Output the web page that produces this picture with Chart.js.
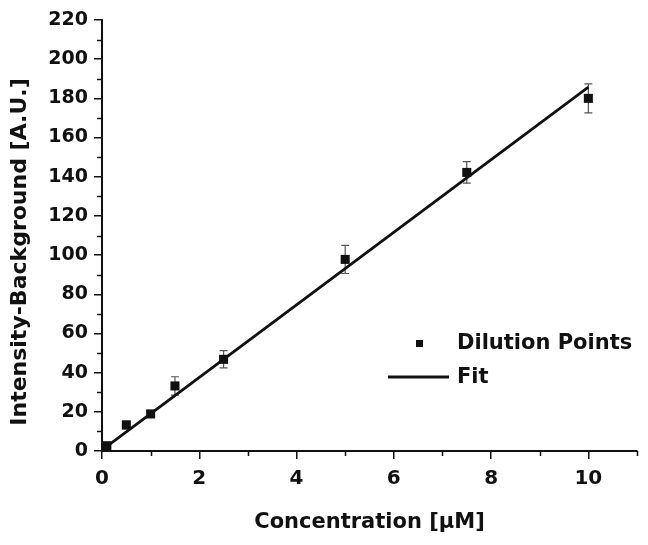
<!DOCTYPE html>
<html>
<head>
<meta charset="utf-8">
<script src="https://cdn.jsdelivr.net/npm/chart.js@4"></script>
<style>
  html, body { margin: 0; padding: 0; background: #fff; }
  #wrap { width: 648px; height: 545px; position: relative; }
</style>
</head>
<body>
<div id="wrap"><canvas id="chart"></canvas></div>
<script>
const concentration = [0.1, 0.5, 1, 1.5, 2.5, 5, 7.5, 10];
const intensity = [2.7, 13.3, 18.9, 33.2, 46.8, 97.8, 142.2, 180];
const intensityError = [1.2, 2, 1.8, 4.7, 4.4, 7.2, 5.5, 7.4];

const fitX = [0.1, 10];
const fitY = [2.4, 185.7];

const xMinorTicks = [1, 3, 5, 7, 9, 11];
const yMinorTicks = [10, 30, 50, 70, 90, 110, 130, 150, 170, 190, 210];

const FONT = "'DejaVu Sans', sans-serif";
const INK = '#111';

const minorTicks = {
  id: 'minorTicks',
  afterDraw(chart) {
    const { ctx, scales: { x, y } } = chart;
    ctx.save();
    ctx.strokeStyle = INK;
    ctx.lineWidth = 1.5;
    ctx.beginPath();
    xMinorTicks.forEach((v) => {
      const px = Math.round(x.getPixelForValue(v)) + 0.5;
      ctx.moveTo(px, x.top);
      ctx.lineTo(px, x.top + 5);
    });
    yMinorTicks.forEach((v) => {
      const py = Math.round(y.getPixelForValue(v)) + 0.5;
      ctx.moveTo(y.right, py);
      ctx.lineTo(y.right - 5, py);
    });
    ctx.stroke();
    ctx.restore();
  }
};

const errorBars = {
  id: 'errorBars',
  beforeDatasetsDraw(chart) {
    const { ctx, scales: { x, y } } = chart;
    ctx.save();
    ctx.strokeStyle = '#555';
    ctx.lineWidth = 1.2;
    ctx.beginPath();
    concentration.forEach((c, i) => {
      const px = x.getPixelForValue(c);
      const top = y.getPixelForValue(intensity[i] + intensityError[i]);
      const bottom = y.getPixelForValue(intensity[i] - intensityError[i]);
      ctx.moveTo(px, top);
      ctx.lineTo(px, bottom);
      ctx.moveTo(px - 4, top);
      ctx.lineTo(px + 4, top);
      ctx.moveTo(px - 4, bottom);
      ctx.lineTo(px + 4, bottom);
    });
    ctx.stroke();
    ctx.restore();
  }
};

// legend and y title drawn by hand so they sit where the original has them
const annotations = {
  id: 'annotations',
  afterDraw(chart) {
    const { ctx, chartArea } = chart;
    ctx.save();
    ctx.fillStyle = INK;
    ctx.strokeStyle = INK;

    const lx = chartArea.left + 286;
    const ly = chartArea.top + 323;
    ctx.fillRect(lx + 28, ly - 3, 7, 7);
    ctx.lineWidth = 2.8;
    ctx.beginPath();
    ctx.moveTo(lx, ly + 34);
    ctx.lineTo(lx + 61, ly + 34);
    ctx.stroke();
    ctx.font = `bold 21px ${FONT}`;
    ctx.textBaseline = 'middle';
    ctx.textAlign = 'left';
    ctx.fillText('Dilution Points', lx + 69, ly + 1);
    ctx.fillText('Fit', lx + 69, ly + 35);

    ctx.translate(20, 252);
    ctx.rotate(-Math.PI / 2);
    ctx.textAlign = 'center';
    ctx.font = `bold 22px ${FONT}`;
    ctx.fillText('Intensity-Background [A.U.]', 0, 0);
    ctx.restore();
  }
};

new Chart(document.getElementById('chart'), {
  type: 'scatter',
  data: {
    datasets: [
      {
        label: 'Dilution Points',
        data: concentration.map((c, i) => ({ x: c, y: intensity[i] })),
        pointStyle: 'rect',
        pointRadius: 6.4,
        pointBorderWidth: 0,
        backgroundColor: INK,
        borderColor: INK,
        order: 1
      },
      {
        label: 'Fit',
        data: fitX.map((c, i) => ({ x: c, y: fitY[i] })),
        showLine: true,
        pointRadius: 0,
        borderColor: INK,
        borderWidth: 2.8,
        order: 2
      }
    ]
  },
  options: {
    responsive: true,
    maintainAspectRatio: false,
    animation: false,
    layout: { padding: { top: 20, right: 11, left: 0, bottom: 0 } },
    plugins: {
      legend: { display: false },
      tooltip: { enabled: false }
    },
    scales: {
      x: {
        type: 'linear',
        min: 0,
        max: 11,
        afterFit(scale) { scale.height = 94; },
        border: { color: INK, width: 2 },
        grid: { drawOnChartArea: false, drawTicks: true, tickLength: 8, color: INK, lineWidth: 1.5 },
        ticks: {
          stepSize: 2,
          includeBounds: false,
          color: INK,
          padding: 8,
          maxRotation: 0,
          font: { family: FONT, weight: 'bold', size: 20 }
        },
        title: {
          display: true,
          text: 'Concentration [μM]',
          color: INK,
          padding: { top: 0, bottom: 10 },
          font: { family: FONT, weight: 'bold', size: 21 }
        }
      },
      y: {
        min: 0,
        max: 220,
        afterFit(scale) { scale.width = 102; },
        border: { color: INK, width: 2 },
        grid: { drawOnChartArea: false, drawTicks: true, tickLength: 8, color: INK, lineWidth: 1.5 },
        ticks: {
          stepSize: 20,
          color: INK,
          padding: 6,
          font: { family: FONT, weight: 'bold', size: 19 }
        }
      }
    }
  },
  plugins: [errorBars, minorTicks, annotations]
});
</script>
</body>
</html>
